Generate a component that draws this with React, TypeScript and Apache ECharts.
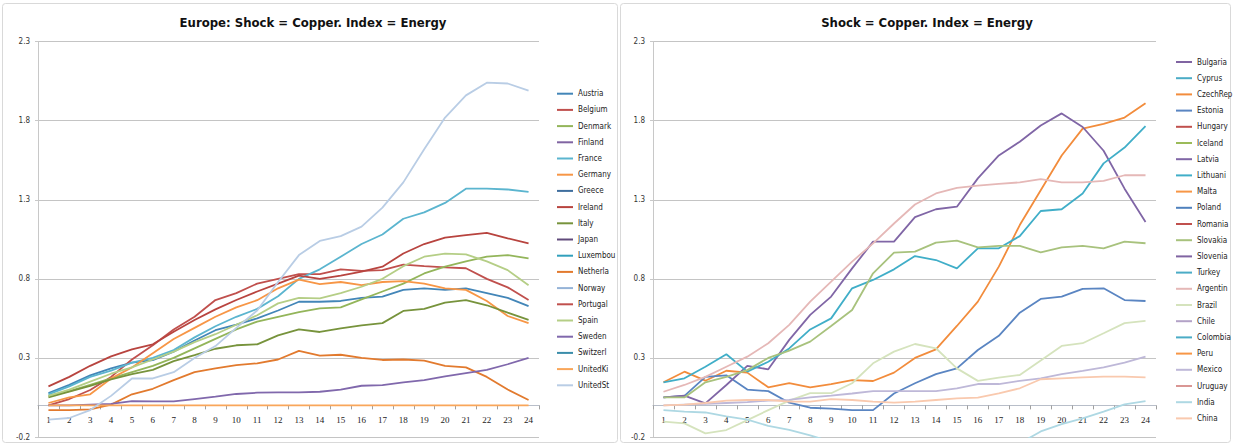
import React, { useEffect, useRef } from "react";
import * as echarts from "echarts";

const categories = ["1","2","3","4","5","6","7","8","9","10","11","12","13","14","15","16","17","18","19","20","21","22","23","24"];
const yTicks = { min: -0.2, max: 2.3, interval: 0.5 };

// ---- Europe (left chart) ----
const leftNames = ["Austria","Belgium","Denmark","Finland","France","Germany","Greece","Ireland","Italy","Japan","Luxembou","Netherla","Norway","Portugal","Spain","Sweden","Switzerl","UnitedKi","UnitedSt"];
const leftColors = ["#4386B8","#C0504D","#93B55A","#8064A2","#5BB5CF","#F79646","#3F6E9E","#B8443F","#77933C","#604A7B","#31A0BC","#E27A2E","#95B3D7","#C0504D","#B5CE86","#8068AC","#3A8DAA","#F9A65A","#B9CDE5"];
const zero24 = [0,0,0,0,0,0,0,0,0,0,0,0,0,0,0,0,0,0,0,0,0,0,0,0];
const austria = [0.078,0.13,0.19,0.234,0.27,0.286,0.34,0.41,0.475,0.51,0.55,0.60,0.655,0.655,0.66,0.68,0.687,0.73,0.74,0.73,0.74,0.71,0.68,0.628];
const belgium = [0.0,0.04,0.097,0.18,0.29,0.38,0.48,0.56,0.666,0.71,0.77,0.80,0.83,0.83,0.86,0.85,0.855,0.89,0.88,0.873,0.867,0.80,0.746,0.666];
const denmark = [0.06,0.09,0.13,0.17,0.21,0.25,0.30,0.36,0.42,0.48,0.53,0.56,0.59,0.613,0.62,0.67,0.72,0.77,0.834,0.877,0.91,0.94,0.95,0.93];
const france = [0.07,0.12,0.18,0.22,0.27,0.30,0.35,0.43,0.50,0.56,0.61,0.69,0.80,0.86,0.94,1.02,1.08,1.18,1.22,1.28,1.37,1.37,1.365,1.35];
const germany = [0.015,0.05,0.07,0.17,0.24,0.33,0.42,0.49,0.56,0.62,0.665,0.74,0.795,0.767,0.78,0.76,0.78,0.785,0.77,0.74,0.73,0.66,0.565,0.52];
const ireland = [0.12,0.18,0.25,0.31,0.354,0.386,0.466,0.54,0.607,0.666,0.72,0.77,0.82,0.80,0.82,0.845,0.877,0.96,1.02,1.06,1.077,1.09,1.056,1.025];
const italy = [0.05,0.087,0.123,0.165,0.197,0.224,0.28,0.317,0.358,0.38,0.386,0.443,0.48,0.464,0.487,0.506,0.52,0.597,0.61,0.65,0.666,0.633,0.586,0.54];
const netherla = [-0.03,-0.03,-0.025,0.005,0.07,0.105,0.16,0.21,0.234,0.255,0.266,0.29,0.345,0.315,0.32,0.30,0.287,0.29,0.283,0.25,0.24,0.18,0.10,0.034];
const spain = [0.06,0.1,0.15,0.2,0.24,0.29,0.34,0.40,0.45,0.51,0.57,0.645,0.68,0.677,0.71,0.75,0.80,0.88,0.94,0.96,0.955,0.91,0.855,0.76];
const sweden = [0,0,0.005,0.01,0.027,0.025,0.025,0.04,0.055,0.072,0.08,0.082,0.082,0.086,0.1,0.124,0.128,0.145,0.16,0.183,0.204,0.225,0.26,0.30];
const unitedSt = [-0.09,-0.08,-0.03,0.06,0.17,0.17,0.21,0.30,0.375,0.49,0.6,0.78,0.95,1.04,1.07,1.13,1.25,1.41,1.62,1.82,1.96,2.04,2.035,1.99];
const leftValues = [austria,belgium,denmark,zero24,france,germany,zero24,ireland,italy,zero24,zero24,netherla,zero24,zero24,spain,sweden,zero24,zero24,unitedSt];

// ---- Others (right chart) ----
const rightNames = ["Bulgaria","Cyprus","CzechRep","Estonia","Hungary","Iceland","Latvia","Lithuani","Malta","Poland","Romania","Slovakia","Slovenia","Turkey","Argentin","Brazil","Chile","Colombia","Peru","Mexico","Uruguay","India","China"];
const rightColors = ["#8064A2","#4BACC6","#F28C3C","#5A85C2","#C0504D","#9BBB59","#8066A6","#40AEC8","#F79646","#4F81BD","#C0504D","#A8C27D","#8064A2","#4BACC6","#E5B8B7","#D5E3BD","#B3A2C7","#4BACC6","#F79646","#BEB8D8","#D99694","#AED8E3","#F9C9AE"];
const latvia = [0.05,0.061,0.013,0.129,0.25,0.228,0.414,0.572,0.688,0.866,1.035,1.035,1.19,1.24,1.256,1.435,1.58,1.667,1.77,1.846,1.76,1.61,1.37,1.16];
const argentin = [0.086,0.129,0.18,0.244,0.308,0.393,0.509,0.656,0.782,0.909,1.024,1.15,1.27,1.34,1.375,1.39,1.40,1.41,1.43,1.41,1.41,1.42,1.455,1.455];
const lithuani = [0.146,0.171,0.244,0.323,0.213,0.276,0.36,0.48,0.55,0.74,0.793,0.86,0.944,0.919,0.866,0.993,0.993,1.07,1.229,1.24,1.34,1.53,1.63,1.766];
const slovakia = [0.05,0.05,0.146,0.18,0.223,0.30,0.346,0.403,0.502,0.603,0.835,0.966,0.972,1.029,1.041,0.999,1.008,1.008,0.968,0.999,1.008,0.993,1.035,1.025];
const czechRep = [0.146,0.213,0.156,0.219,0.207,0.114,0.14,0.114,0.135,0.16,0.154,0.207,0.30,0.354,0.502,0.656,0.877,1.14,1.36,1.58,1.75,1.78,1.82,1.91];
const estonia = [0.05,0.06,0.18,0.19,0.10,0.09,0.017,-0.015,-0.02,-0.03,-0.03,0.075,0.14,0.198,0.234,0.35,0.44,0.586,0.673,0.688,0.736,0.74,0.666,0.66];
const brazil = [-0.103,-0.114,-0.177,-0.156,-0.093,-0.03,0.03,0.077,0.077,0.14,0.266,0.34,0.388,0.361,0.234,0.155,0.176,0.192,0.283,0.376,0.393,0.456,0.52,0.534];
const mexico = [0,0.005,0.01,0.015,0.02,0.03,0.035,0.05,0.061,0.075,0.09,0.09,0.09,0.09,0.108,0.135,0.135,0.155,0.171,0.197,0.218,0.24,0.27,0.308];
const china = [0,0.005,0.015,0.03,0.034,0.034,0.024,0.024,0.04,0.034,0.024,0.017,0.024,0.034,0.044,0.049,0.076,0.108,0.165,0.171,0.177,0.182,0.182,0.177];
const india = [-0.03,-0.04,-0.045,-0.07,-0.09,-0.13,-0.155,-0.19,-0.23,-0.26,-0.28,-0.3,-0.31,-0.32,-0.31,-0.3,-0.28,-0.24,-0.165,-0.118,-0.082,-0.04,0.006,0.027];
const rightValues = [zero24,zero24,czechRep,estonia,zero24,zero24,latvia,lithuani,zero24,zero24,zero24,slovakia,zero24,zero24,argentin,brazil,zero24,zero24,zero24,mexico,zero24,india,china];

const leftTitle = "Europe: Shock = Copper. Index = Energy";
const rightTitle = "Shock = Copper. Index = Energy";

const SANS = "'DejaVu Sans Condensed', 'Liberation Sans Narrow', sans-serif";
const GRID_TOP = 41.6;
const GRID_H = 395.4;
// pixel distance from the bottom of the plot up to the value 0 (where the category axis sits)
const zeroOffset = -((0 - yTicks.min) / (yTicks.max - yTicks.min)) * GRID_H;

function makeAxes(gridIndex: number, xz: number) {
  const x = {
    type: "category",
    gridIndex,
    data: categories,
    z: xz,
    offset: zeroOffset,
    axisLine: { onZero: false, lineStyle: { color: "#B8BEC9", width: 1.2 } },
    axisTick: { show: true, length: 4, lineStyle: { color: "#A0A0A0" } },
    axisLabel: { fontSize: 9, color: "#222", fontFamily: "'Liberation Serif', serif", margin: 10 },
    splitLine: { show: false },
  };
  const y = {
    type: "value",
    gridIndex,
    min: yTicks.min,
    max: yTicks.max,
    interval: yTicks.interval,
    axisLine: { show: true, lineStyle: { color: "#C8C8C8" } },
    axisTick: { show: true, length: 3, lineStyle: { color: "#C8C8C8" } },
    axisLabel: { fontSize: 8, color: "#333", fontFamily: SANS, margin: 8, formatter: (v: number) => v.toFixed(1) },
    splitLine: { show: true, lineStyle: { color: "#C4C4C4", width: 1 } },
  };
  return { x, y };
}

// a series that lies flat on the zero line is hidden under the one drawn last on it
function isFlatZero(values: number[]) {
  return values.every((v) => v === 0);
}

export default function App() {
  const ref = useRef<HTMLDivElement>(null);
  useEffect(() => {
    if (!ref.current) return;
    const chart = echarts.init(ref.current, undefined, { renderer: "svg" });
    const a0 = makeAxes(0, 0);
    const a1 = makeAxes(1, 3);
    const series: any[] = [];
    let lastLeftZero = -1;
    leftValues.forEach((v, i) => { if (isFlatZero(v)) lastLeftZero = i; });
    leftNames.forEach((name, i) => {
      const hidden = isFlatZero(leftValues[i]) && i !== lastLeftZero;
      series.push({
        name, type: "line", xAxisIndex: 0, yAxisIndex: 0, data: leftValues[i],
        symbol: "none", showSymbol: false, silent: true,
        lineStyle: { color: leftColors[i], width: 1.8, opacity: hidden ? 0 : 1 }, itemStyle: { color: leftColors[i] },
      });
    });
    rightNames.forEach((name, i) => {
      const hidden = isFlatZero(rightValues[i]);
      series.push({
        name, type: "line", xAxisIndex: 1, yAxisIndex: 1, data: rightValues[i],
        symbol: "none", showSymbol: false, silent: true,
        lineStyle: { color: rightColors[i], width: 1.8, opacity: hidden ? 0 : 1 }, itemStyle: { color: rightColors[i] },
      });
    });
    const legendBase = {
      orient: "vertical", icon: "rect", itemWidth: 16, itemHeight: 2, itemGap: 0,
      selectedMode: false,
      textStyle: { fontSize: 8, lineHeight: 16.2, color: "#222", fontFamily: SANS },
    };
    chart.setOption({
      animation: false,
      backgroundColor: "#ffffff",
      grid: [
        { left: 38, top: GRID_TOP, width: 501, height: GRID_H, containLabel: false, outerBoundsMode: "none" },
        { left: 653, top: GRID_TOP, width: 503, height: GRID_H, containLabel: false, outerBoundsMode: "none" },
      ],
      xAxis: [a0.x, a1.x],
      yAxis: [a0.y, a1.y],
      legend: [
        { ...legendBase, left: 552, top: 80.6, data: leftNames },
        { ...legendBase, left: 1171, top: 48.9, data: rightNames },
      ],
      graphic: [
        { type: "rect", shape: { x: 2.5, y: 3.5, width: 615, height: 439, r: 3 }, style: { fill: "none", stroke: "#D9D9D9", lineWidth: 1 }, z: -1 },
        { type: "rect", shape: { x: 620.5, y: 3.5, width: 610, height: 439, r: 3 }, style: { fill: "none", stroke: "#D9D9D9", lineWidth: 1 }, z: -1 },
        { type: "text", x: 313, y: 22, style: { text: leftTitle, align: "center", verticalAlign: "middle", font: "bold 13px " + SANS, fill: "#111" } },
        { type: "text", x: 927, y: 22, style: { text: rightTitle, align: "center", verticalAlign: "middle", font: "bold 13px " + SANS, fill: "#111" } },
      ],
      series,
    });
    return () => chart.dispose();
  }, []);
  return <div ref={ref} style={{ position: "absolute", left: 0, top: 0, width: 1233, height: 446 }} />;
}
